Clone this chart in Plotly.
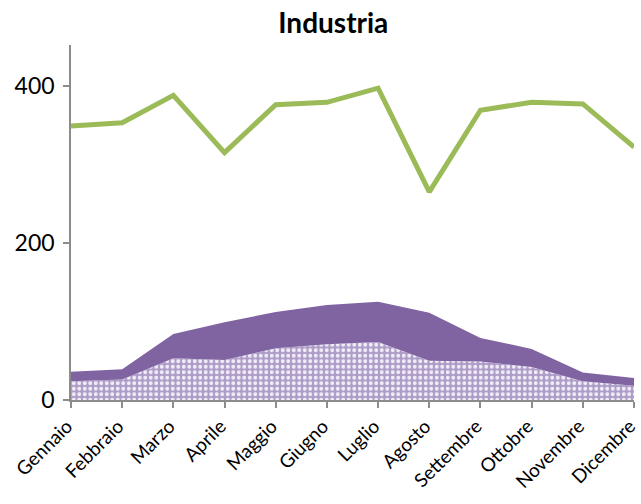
import plotly.graph_objects as go

mesi = ["Gennaio", "Febbraio", "Marzo", "Aprile", "Maggio", "Giugno",
        "Luglio", "Agosto", "Settembre", "Ottobre", "Novembre", "Dicembre"]

# stacked area series (base, then top layer)
base = [24, 26, 53, 51, 66, 71, 74, 50, 49, 42, 24, 18]
strato = [12, 13, 31, 48, 46, 50, 51, 61, 30, 23, 11, 10]
# line series
linea = [349, 353, 388, 315, 376, 379, 397, 265, 369, 379, 377, 322]

y_ticks = [0, 200, 400]

font_family = "Lato, 'Open Sans', sans-serif"
axis_grey = "#8c8c8c"

fig = go.Figure()

fig.add_trace(go.Scatter(
    x=mesi, y=base, mode="none", stackgroup="area",
    fillcolor="#b4a4cb",
    fillpattern=dict(shape=".", bgcolor="#ad9cc7", fgcolor="#f2eef8",
                     size=5.5, solidity=0.4, fillmode="replace"),
    line=dict(width=0), showlegend=False, hoverinfo="skip",
))
fig.add_trace(go.Scatter(
    x=mesi, y=strato, mode="none", stackgroup="area",
    fillcolor="#8064a2", line=dict(width=0), showlegend=False,
))
fig.add_trace(go.Scatter(
    x=mesi, y=linea, mode="lines",
    line=dict(color="#9bbb59", width=5), showlegend=False,
))

fig.update_layout(
    width=641, height=504,
    paper_bgcolor="white", plot_bgcolor="white",
    margin=dict(l=71, r=7, t=45, b=104),
    title=dict(text="<b>Industria</b>", x=0.52, xanchor="center",
               y=0.953, yanchor="middle",
               font=dict(family=font_family, size=28, color="black")),
    font=dict(family=font_family, color="black"),
    xaxis=dict(
        type="category", range=[0, 11], automargin=False,
        showline=True, linecolor=axis_grey, linewidth=1.5,
        ticks="outside", ticklen=6, tickcolor=axis_grey, tickwidth=1.5,
        tickangle=-45, tickfont=dict(size=19), ticklabelshift=-4,
        showgrid=False, zeroline=False,
    ),
    yaxis=dict(
        range=[0, 452], tickvals=y_ticks, automargin=False,
        showline=True, linecolor=axis_grey, linewidth=1.5,
        ticks="outside", ticklen=6, tickcolor=axis_grey, tickwidth=1.5,
        tickfont=dict(size=23), ticklabelstandoff=4,
        showgrid=False, zeroline=False,
    ),
)

fig.write_html("out.html")
